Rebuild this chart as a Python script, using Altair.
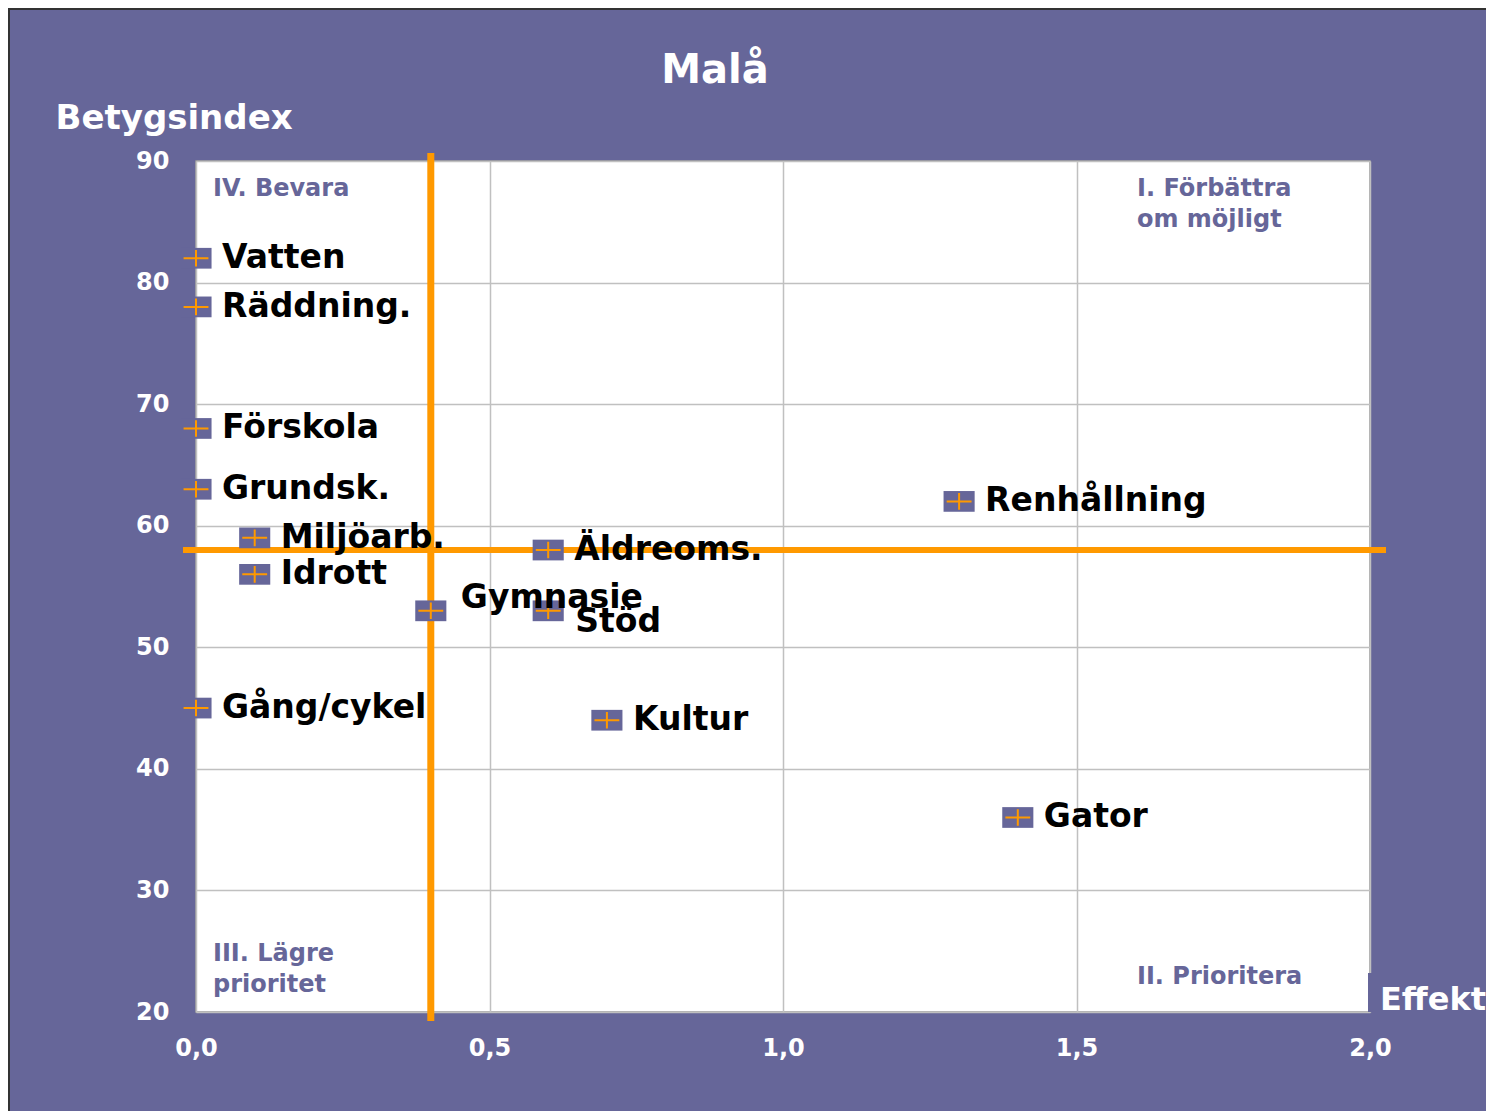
import altair as alt
import pandas as pd

# ---- data ----
names = ["Vatten", "Räddning.", "Förskola", "Grundsk.", "Miljöarb.", "Idrott",
         "Gymnasie", "Stöd", "Äldreoms.", "Renhållning", "Kultur", "Gator", "Gång/cykel"]
effekt = [0.0, 0.0, 0.0, 0.0, 0.1, 0.1, 0.4, 0.6, 0.6, 1.3, 0.7, 1.4, 0.0]
betyg = [82, 78, 68, 63, 59, 56, 53, 53, 58, 62, 44, 36, 45]

x_ticks = [0.0, 0.5, 1.0, 1.5, 2.0]
y_ticks = [20, 30, 40, 50, 60, 70, 80, 90]
x_ref = [0.4]
y_ref = [58]

chart_title = "Malå"
x_title = "Effekt"
y_title = "Betygsindex"
quad_labels = ["IV. Bevara", "I. Förbättra\nom möjligt", "III. Lägre\nprioritet", "II. Prioritera"]

df = pd.DataFrame({"name": names, "effekt": effekt, "betyg": betyg})

PURPLE = "#666699"
ORANGE = "#FF9900"
FONT = "DejaVu Sans"
W, H = 1174, 851

xs = alt.Scale(domain=[0, 2], nice=False, zero=False)
ys = alt.Scale(domain=[20, 90], nice=False, zero=False)

base = alt.Chart(df)

x_enc = alt.X("effekt:Q", scale=xs, axis=alt.Axis(
    values=x_ticks, title=None, grid=True, ticks=False, domain=False,
    labelFlush=False,
    labelExpr="replace(format(datum.value, '.1f'), '.', ',')",
    labelPadding=24))
y_enc = alt.Y("betyg:Q", scale=ys, axis=alt.Axis(
    values=y_ticks, title=y_title, grid=True, ticks=False, domain=False,
    labelFlush=False,
    labelPadding=27, titleAngle=0, titleAlign="left", titleX=-141, titleY=-43,
    titleBaseline="middle", titleAnchor="start"))

# invisible layer to hold axes
axes_layer = base.mark_point(opacity=0).encode(x=x_enc, y=y_enc)

# purple box behind "Effekt"
effekt_box = base.mark_rect(fill=PURPLE).encode(
    x=alt.value(W - 2), x2=alt.value(W + 120), y=alt.value(H - 39), y2=alt.value(H))
effekt_txt = alt.Chart(pd.DataFrame({"t": [x_title]})).mark_text(
    font=FONT, fontWeight="bold", fontSize=32, color="white", align="left",
    baseline="middle").encode(x=alt.value(W + 10), y=alt.value(H - 12), text="t:N")
title_txt = alt.Chart(pd.DataFrame({"t": [chart_title]})).mark_text(
    font=FONT, fontWeight="bold", fontSize=40, color="white", align="center",
    baseline="alphabetic").encode(x=alt.value(519), y=alt.value(-78), text="t:N")

vline = alt.Chart(pd.DataFrame({"v": x_ref})).mark_rule(color=ORANGE, strokeWidth=7).encode(
    x=alt.X("v:Q", scale=xs), y=alt.value(-8), y2=alt.value(H + 9))
hline = alt.Chart(pd.DataFrame({"h": y_ref})).mark_rule(color=ORANGE, strokeWidth=6).encode(
    y=alt.Y("h:Q", scale=ys), x=alt.value(-13), x2=alt.value(W + 16))

rect_shape = "M-1.5,-1L1.5,-1L1.5,1L-1.5,1Z"
plus_shape = "M-1.2,0L1.2,0M0,-0.8L0,0.8"

markers = base.mark_point(shape=rect_shape, filled=True, fill=PURPLE, size=430,
                          strokeWidth=0, opacity=1).encode(
    x=alt.X("effekt:Q", scale=xs), y=alt.Y("betyg:Q", scale=ys))
pluses = base.mark_point(shape=plus_shape, filled=False, color=ORANGE, size=430,
                         strokeWidth=2, opacity=1).encode(
    x=alt.X("effekt:Q", scale=xs), y=alt.Y("betyg:Q", scale=ys))

txt = dict(font=FONT, fontWeight="bold", fontSize=33, color="black",
           align="left", baseline="middle")
labels_main = base.transform_filter(
    "datum.name != 'Gymnasie' && datum.name != 'Stöd'").mark_text(dx=26, **txt).encode(
    x=alt.X("effekt:Q", scale=xs), y=alt.Y("betyg:Q", scale=ys), text="name:N")
labels_gym = base.transform_filter("datum.name == 'Gymnasie'").mark_text(
    dx=30, dy=-13, **txt).encode(
    x=alt.X("effekt:Q", scale=xs), y=alt.Y("betyg:Q", scale=ys), text="name:N")
labels_stod = base.transform_filter("datum.name == 'Stöd'").mark_text(
    dx=27, dy=11, **txt).encode(
    x=alt.X("effekt:Q", scale=xs), y=alt.Y("betyg:Q", scale=ys), text="name:N")

qtxt = dict(font=FONT, fontWeight="bold", fontSize=24, color=PURPLE,
            align="left", baseline="middle", lineHeight=31)
q1 = alt.Chart(pd.DataFrame({"t": [quad_labels[0]]})).mark_text(**qtxt).encode(
    x=alt.value(17), y=alt.value(28), text="t:N")
q2 = alt.Chart(pd.DataFrame({"t": [quad_labels[1].split("\n")]})).mark_text(**qtxt).encode(
    x=alt.value(941), y=alt.value(28), text="t")
q3 = alt.Chart(pd.DataFrame({"t": [quad_labels[2].split("\n")]})).mark_text(**qtxt).encode(
    x=alt.value(17), y=alt.value(793), text="t")
q4 = alt.Chart(pd.DataFrame({"t": [quad_labels[3]]})).mark_text(**qtxt).encode(
    x=alt.value(941), y=alt.value(816), text="t:N")

# outer border of the chart frame (left and top)
border_l = base.mark_rule(color="#333333", strokeWidth=2).encode(
    x=alt.value(-187), y=alt.value(-153), y2=alt.value(H + 99))
border_t = base.mark_rule(color="#333333", strokeWidth=2).encode(
    y=alt.value(-152), x=alt.value(-188), x2=alt.value(W + 116))

chart = alt.layer(
    axes_layer, vline, hline, markers, pluses,
    labels_main, labels_gym, labels_stod,
    q1, q2, q3, q4, effekt_box, effekt_txt, title_txt, border_l, border_t
).properties(
    width=W, height=H,
    autosize=alt.AutoSizeParams(type="none"),
    padding={"left": 188, "top": 153, "right": 116, "bottom": 99},
    background=PURPLE,
).configure_view(
    fill="white", stroke="#999999", strokeWidth=1.5
).configure_axis(
    gridColor="#c0c0c0", gridWidth=1.5,
    labelFont=FONT, labelFontWeight="bold", labelFontSize=24, labelColor="white",
    titleFont=FONT, titleFontWeight="bold", titleFontSize=34, titleColor="white",
)

chart.save("out.html", embed_options={"renderer": "svg", "actions": False})
